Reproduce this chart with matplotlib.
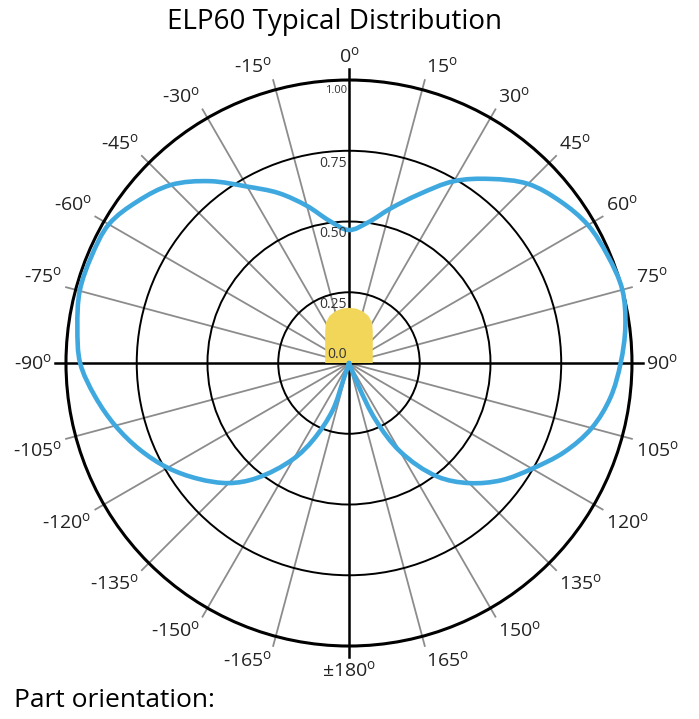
import numpy as np
import matplotlib
matplotlib.use('Agg')
import matplotlib.pyplot as plt
from matplotlib.patches import Circle, PathPatch
from matplotlib.path import Path

plt.rcParams['font.family'] = ['Open Sans', 'DejaVu Sans']
plt.rcParams['mathtext.default'] = 'regular'

# Data (angle in degrees from the top, clockwise; relative intensity)
blue_left_deg = [-161.5, -161.5, -161, -155, -150, -141, -135, -127.5, -120, -112.5, -105,
                 -97.5, -90, -82.5, -75, -67.5, -60, -52.5, -45, -37.5, -30, -22.5, -15,
                 -7.5, 0]
blue_left_r = [0.0, 0.06, 0.175, 0.30, 0.39, 0.525, 0.60, 0.672, 0.74, 0.80, 0.855,
               0.905, 0.95, 0.968, 0.985, 0.985, 0.98, 0.94, 0.89, 0.81, 0.72, 0.65, 0.575,
               0.505, 0.47]
blue_right_deg = [7.5, 15, 22.5, 30, 37.5, 45, 52.5, 60, 67.5, 75, 82.5, 90, 97.5, 105,
                  112.5, 120, 127.5, 135, 142, 150, 155, 157.4, 157.4]
blue_right_r = [0.50, 0.565, 0.645, 0.742, 0.82, 0.895, 0.94, 0.975, 0.99, 1.0, 0.985, 0.96,
                0.932, 0.888, 0.823, 0.747, 0.68, 0.60, 0.51, 0.36, 0.22, 0.09, 0.0]

yellow_deg = [-90, -90, -75, -60, -45, -37.5, -30, -22.5, -15, -7.5, 0,
              7.5, 15, 22.5, 30, 37.5, 45, 60, 75, 90, 90]
yellow_r = [0.0, 0.084, 0.087, 0.097, 0.119, 0.138, 0.164, 0.18, 0.189, 0.194, 0.195,
            0.194, 0.189, 0.18, 0.164, 0.138, 0.119, 0.097, 0.087, 0.084, 0.0]

ring_values = [0.25, 0.50, 0.75, 1.0]
ring_labels = ['0.0', '0.25', '0.50', '0.75', '1.00']
angle_ticks = list(range(-165, 181, 15))

blue = '#3fa9df'
yellow = '#f2d65a'
gray = '#8c8c8c'


def to_xy(deg, r):
    t = np.deg2rad(np.asarray(deg, dtype=float))
    r = np.asarray(r, dtype=float)
    return r * np.sin(t), r * np.cos(t)


def smooth_path(x, y):
    # smooth Bezier through the points, handles scaled by chord length
    p = np.column_stack([x, y])
    keep = [0] + [i for i in range(1, len(p)) if np.hypot(*(p[i] - p[i - 1])) > 1e-6]
    p = p[keep]
    n = len(p)
    d = np.hypot(*(p[1:] - p[:-1]).T)
    tang = np.zeros_like(p)
    for i in range(n):
        if i == 0:
            v = (p[1] - p[0]) / d[0]
        elif i == n - 1:
            v = (p[-1] - p[-2]) / d[-1]
        else:
            v = (p[i + 1] - p[i]) / d[i] + (p[i] - p[i - 1]) / d[i - 1]
        tang[i] = v / np.hypot(*v)
    verts = [p[0]]
    codes = [Path.MOVETO]
    for i in range(n - 1):
        verts += [p[i] + tang[i] * d[i] / 3, p[i + 1] - tang[i + 1] * d[i] / 3, p[i + 1]]
        codes += [Path.CURVE4] * 3
    return Path(verts, codes)


fig = plt.figure(figsize=(6.99, 7.19), dpi=100)
ax = fig.add_axes([0.0944, 0.1015, 0.8097, 0.7872])
ax.set_xlim(-1, 1)
ax.set_ylim(-1, 1)
ax.axis('off')

# spokes
for a in angle_ticks:
    if a % 90 == 0:
        x, y = to_xy([a, a], [0, 1.04])
        ax.plot(x, y, color='black', lw=1.8, clip_on=False, zorder=3)
    else:
        x, y = to_xy([a, a], [0, 1.035])
        ax.plot(x, y, color=gray, lw=1.3, clip_on=False, zorder=1)

# rings
for rv in ring_values:
    ax.add_patch(Circle((0, 0), rv, fill=False, ec='black',
                        lw=2.2 if rv == 1.0 else 1.4, zorder=2, clip_on=False))

# yellow fill
yx, yy = to_xy(yellow_deg, yellow_r)
ax.fill(yx, yy, color=yellow, lw=0, zorder=4)

# blue curve
bx, by = to_xy(blue_left_deg + blue_right_deg, blue_left_r + blue_right_r)
ax.add_patch(PathPatch(smooth_path(bx, by), fill=False, ec=blue, lw=3.3,
                       capstyle='round', joinstyle='round', zorder=5))

# radial labels
for i, lbl in enumerate(ring_labels):
    rv = i * 0.25
    if i == 0:
        ax.annotate(lbl, xy=(0, 0), xytext=(-1.5, 1), textcoords='offset points',
                    ha='right', va='bottom', fontsize=10, color='#333333', zorder=6)
    else:
        ax.annotate(lbl, xy=(0, rv), xytext=(-1.5, -3.5), textcoords='offset points',
                    ha='right', va='top', fontsize=8 if i == 4 else 10,
                    color='#333333', zorder=6)

# angle labels
for a in angle_ticks:
    t = np.deg2rad(a)
    s, c = np.sin(t), np.cos(t)
    ha = 'left' if s > 0.01 else ('right' if s < -0.01 else 'center')
    va = 'bottom' if c > 0.01 else ('top' if c < -0.01 else 'center')
    txt = ('\u00b1180' if a == 180 else str(a)) + r'$^{o}$'
    ax.text(1.05 * s, 1.05 * c, txt, ha=ha, va=va, fontsize=14, color='#222222',
            clip_on=False)

fig.text(0.478, 0.969, 'ELP60 Typical Distribution', ha='center', va='center', fontsize=20)
fig.text(0.02, 0.026, 'Part orientation:', ha='left', va='center', fontsize=19)

fig.savefig('out.png', dpi=100)
